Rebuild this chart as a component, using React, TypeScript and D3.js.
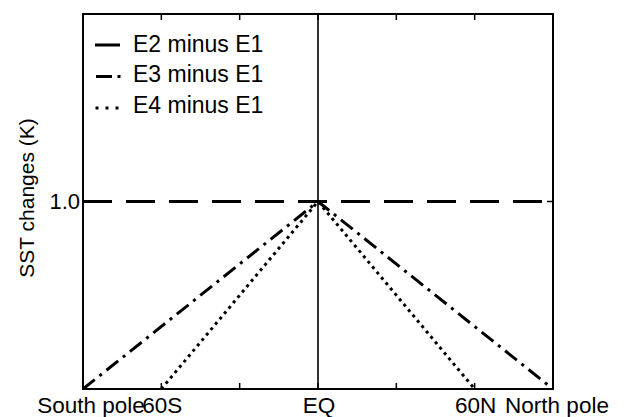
import React from "react";
import * as d3 from "d3";

const W = 631;
const H = 417;
const margin = { top: 14, right: 78, bottom: 28, left: 83 };

// latitude (deg) and SST change (K)
const e2Lat = [-90, 0, 90];
const e2Val = [1, 1, 1];
const e3Lat = [-90, 0, 90];
const e3Val = [0, 1, 0];
const e4Lat = [-60, 0, 60];
const e4Val = [0, 1, 0];

const xTickValues = [-90, -60, -30, 0, 30, 60, 90];
const xLabelValues = [-90, -60, 0, 60, 90];
const xLabelTexts = ["South pole", "60S", "EQ", "60N", "North pole"];
const xLabelShift = [8, 1, 1, 1, 4];
const yTickValues = [1];
const yTickTexts = ["1.0"];

const legendNames = ["E2 minus E1", "E3 minus E1", "E4 minus E1"];

const FONT = "'Liberation Sans', Arial, sans-serif";

export default function App() {
  const iw = W - margin.left - margin.right;
  const ih = H - margin.top - margin.bottom;
  const x = d3.scaleLinear().domain([-90, 90]).range([0, iw]);
  const y = d3.scaleLinear().domain([0, 2]).range([ih, 0]);
  const line = d3
    .line<[number, number]>()
    .x((d) => x(d[0]))
    .y((d) => y(d[1]));
  const zip = (a: number[], b: number[]) => a.map((v, i) => [v, b[i]] as [number, number]);

  const tickLen = 6;

  return (
    <svg
      width={W}
      height={H}
      style={{ position: "absolute", left: 0, top: 0, background: "#fff" }}
      fontFamily={FONT}
    >
      <defs>
        <clipPath id="plotclip">
          <rect x={0} y={0} width={iw} height={ih} />
        </clipPath>
      </defs>
      <g transform={`translate(${margin.left},${margin.top})`}>
        {/* equator line */}
        <line x1={x(0)} x2={x(0)} y1={0} y2={ih} stroke="#000" strokeWidth={1.6} />
        <g clipPath="url(#plotclip)">
          <path
            d={line(zip(e2Lat, e2Val)) || ""}
            fill="none"
            stroke="#000"
            strokeWidth={3}
            strokeDasharray="29,14"
          />
          <path
            d={line(zip(e3Lat, e3Val)) || ""}
            fill="none"
            stroke="#000"
            strokeWidth={3}
            strokeDasharray="15,6,3,6"
          />
          <path
            d={line(zip(e4Lat, e4Val)) || ""}
            fill="none"
            stroke="#000"
            strokeWidth={3}
            strokeDasharray="3,4"
          />
        </g>
        {/* ticks */}
        {xTickValues.map((v) => (
          <g key={"xt" + v}>
            <line x1={x(v)} x2={x(v)} y1={ih} y2={ih - tickLen} stroke="#000" strokeWidth={1.5} />
            <line x1={x(v)} x2={x(v)} y1={0} y2={tickLen} stroke="#000" strokeWidth={1.5} />
          </g>
        ))}
        {yTickValues.map((v) => (
          <g key={"yt" + v}>
            <line x1={0} x2={tickLen} y1={y(v)} y2={y(v)} stroke="#000" strokeWidth={1.5} />
            <line x1={iw} x2={iw - tickLen} y1={y(v)} y2={y(v)} stroke="#000" strokeWidth={1.5} />
          </g>
        ))}
        {/* frame */}
        <rect x={0} y={0} width={iw} height={ih} fill="none" stroke="#000" strokeWidth={2} />
        {/* x labels */}
        {xLabelValues.map((v, i) => (
          <text
            key={"xl" + v}
            x={x(v) + xLabelShift[i]}
            y={ih + 24}
            textAnchor="middle"
            fontSize={22.5}
            fill="#000"
          >
            {xLabelTexts[i]}
          </text>
        ))}
        {yTickValues.map((v, i) => (
          <text
            key={"yl" + v}
            x={-3}
            y={y(v)}
            dy="0.36em"
            textAnchor="end"
            fontSize={22}
            fill="#000"
          >
            {yTickTexts[i]}
          </text>
        ))}
        <text
          transform={`translate(${-49},${184}) rotate(-90)`}
          textAnchor="middle"
          fontSize={21}
          fill="#000"
        >
          SST changes (K)
        </text>
        {/* legend */}
        <g transform="translate(12,31)">
          <line x1={0} x2={25} y1={0} y2={0} stroke="#000" strokeWidth={3} />
          <line x1={1} x2={17} y1={31.5} y2={31.5} stroke="#000" strokeWidth={3} />
          <rect x={22.5} y={30} width={3} height={3} fill="#000" />
          {[0, 10, 20].map((dx) => (
            <rect key={dx} x={0.5 + dx} y={61.5} width={3} height={3} fill="#000" />
          ))}
          {legendNames.map((n, i) => (
            <text key={n} x={38} y={6.5 + i * 30.5} fontSize={23} fill="#000">
              {n}
            </text>
          ))}
        </g>
      </g>
    </svg>
  );
}
